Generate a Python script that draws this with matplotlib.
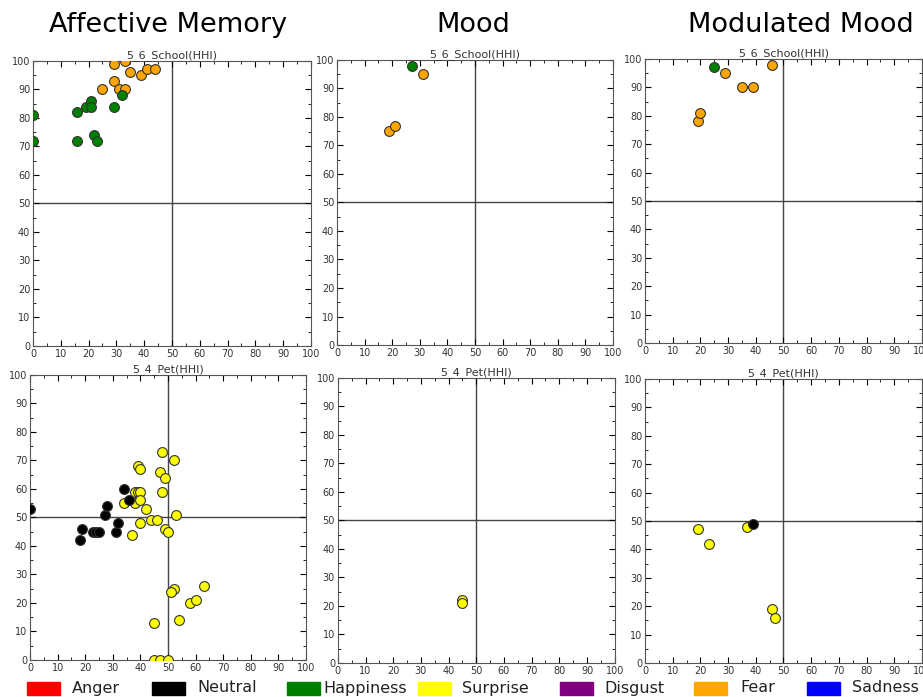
import matplotlib
matplotlib.use('Agg')
import matplotlib.pyplot as plt
from matplotlib.patches import Rectangle

# Datos: (x, y) por emoción, para cada panel
emotions = ['Anger', 'Neutral', 'Happiness', 'Surprise', 'Disgust', 'Fear', 'Sadness']
colors = ['red', 'black', 'green', 'yellow', 'purple', 'orange', 'blue']

# Affective Memory - 5_6_School
am_school_fear_x = [29, 33, 35, 39, 41, 44, 29, 25, 31, 33]
am_school_fear_y = [99, 100, 96, 95, 97, 97, 93, 90, 90, 90]
am_school_happy_x = [0, 0, 16, 16, 19, 21, 21, 22, 23, 29, 32]
am_school_happy_y = [81, 72, 82, 72, 84, 86, 84, 74, 72, 84, 88]

# Mood - 5_6_School
mo_school_fear_x = [31, 19, 21]
mo_school_fear_y = [95, 75, 77]
mo_school_happy_x = [27]
mo_school_happy_y = [98]

# Modulated Mood - 5_6_School
mm_school_fear_x = [29, 35, 39, 46, 19, 20]
mm_school_fear_y = [95, 90, 90, 98, 78, 81]
mm_school_happy_x = [25]
mm_school_happy_y = [97]

# Affective Memory - 5_4_Pet
am_pet_surp_x = [48, 52, 39, 40, 47, 49, 38, 39, 40, 48, 34, 38, 40, 42, 53, 44,
                 46, 40, 49, 50, 37, 52, 51, 63, 58, 60, 54, 45, 45, 47, 50]
am_pet_surp_y = [73, 70, 68, 67, 66, 64, 59, 59, 59, 59, 55, 55, 56, 53, 51, 49,
                 49, 48, 46, 45, 44, 25, 24, 26, 20, 21, 14, 13, 0, 0, 0]
am_pet_neut_x = [0, 18, 19, 23, 24, 25, 27, 28, 31, 32, 34, 36]
am_pet_neut_y = [53, 42, 46, 45, 45, 45, 51, 54, 45, 48, 60, 56]

# Mood - 5_4_Pet
mo_pet_surp_x = [45, 45]
mo_pet_surp_y = [22, 21]

# Modulated Mood - 5_4_Pet
mm_pet_surp_x = [19, 23, 37, 46, 47]
mm_pet_surp_y = [47, 42, 48, 19, 16]
mm_pet_neut_x = [39]
mm_pet_neut_y = [49]

W, H = 923, 697
fig = plt.figure(figsize=(W / 100, H / 100), dpi=100)

# posiciones de cada panel (izq, abajo, ancho, alto)
pos = {
    'am_school': [0.0358, 0.5036, 0.301, 0.409],
    'mo_school': [0.3651, 0.505, 0.299, 0.409],
    'mm_school': [0.6988, 0.5079, 0.300, 0.4075],
    'am_pet': [0.0325, 0.0531, 0.299, 0.409],
    'mo_pet': [0.366, 0.0488, 0.300, 0.409],
    'mm_pet': [0.6988, 0.0488, 0.300, 0.4075],
}


def panel(key, title, series):
    ax = fig.add_axes(pos[key])
    ax.axhline(50, color='#444444', lw=1, zorder=1)
    ax.axvline(50, color='#444444', lw=1, zorder=1)
    for xs, ys, c in series:
        ax.scatter(xs, ys, s=50, c=c, edgecolors='#333333', linewidths=0.8,
                   zorder=3)
    ax.set_xlim(0, 100)
    ax.set_ylim(0, 100)
    ax.set_xticks(range(0, 101, 10))
    ax.set_yticks(range(0, 101, 10))
    ax.set_xticks(range(0, 101, 5), minor=True)
    ax.set_yticks(range(0, 101, 5), minor=True)
    ax.tick_params(which='both', direction='in', top=True, right=True,
                   labelsize=7, labelcolor='#333333', pad=2)
    ax.tick_params(which='major', length=4)
    ax.tick_params(which='minor', length=2)
    for s in ax.spines.values():
        s.set_color('#555555')
    ax.set_title(title, fontsize=8, color='#333333', pad=2)
    return ax


panel('am_school', '5_6_School(HHI)',
      [(am_school_fear_x, am_school_fear_y, 'orange'),
       (am_school_happy_x, am_school_happy_y, 'green')])
panel('mo_school', '5_6_School(HHI)',
      [(mo_school_fear_x, mo_school_fear_y, 'orange'),
       (mo_school_happy_x, mo_school_happy_y, 'green')])
panel('mm_school', '5_6_School(HHI)',
      [(mm_school_fear_x, mm_school_fear_y, 'orange'),
       (mm_school_happy_x, mm_school_happy_y, 'green')])
panel('am_pet', '5_4_Pet(HHI)',
      [(am_pet_surp_x, am_pet_surp_y, 'yellow'),
       (am_pet_neut_x, am_pet_neut_y, 'black')])
panel('mo_pet', '5_4_Pet(HHI)',
      [(mo_pet_surp_x, mo_pet_surp_y, 'yellow')])
panel('mm_pet', '5_4_Pet(HHI)',
      [(mm_pet_surp_x, mm_pet_surp_y, 'yellow'),
       (mm_pet_neut_x, mm_pet_neut_y, 'black')])

# Títulos de columna
fig.text(0.1826, 0.964, 'Affective Memory', ha='center', va='center', fontsize=19.5)
fig.text(0.513, 0.964, 'Mood', ha='center', va='center', fontsize=19.5)
fig.text(0.868, 0.964, 'Modulated Mood', ha='center', va='center', fontsize=19.5)

# Leyenda (cuadro de color + nombre), colocada a mano
patch_left = [27, 152, 287, 418, 560, 694, 807]
text_left = [72, 197, 323, 462, 604, 740, 852]
for c, name, pl, tl in zip(colors, emotions, patch_left, text_left):
    fig.patches.append(Rectangle((pl / W, 1 - 695 / H), 33 / W, 13 / H,
                                 facecolor=c, edgecolor=c,
                                 transform=fig.transFigure, figure=fig))
    fig.text(tl / W, 1 - 688 / H, name, ha='left', va='center', fontsize=11.5,
             color='#222222')

fig.savefig('out.png', dpi=100)
